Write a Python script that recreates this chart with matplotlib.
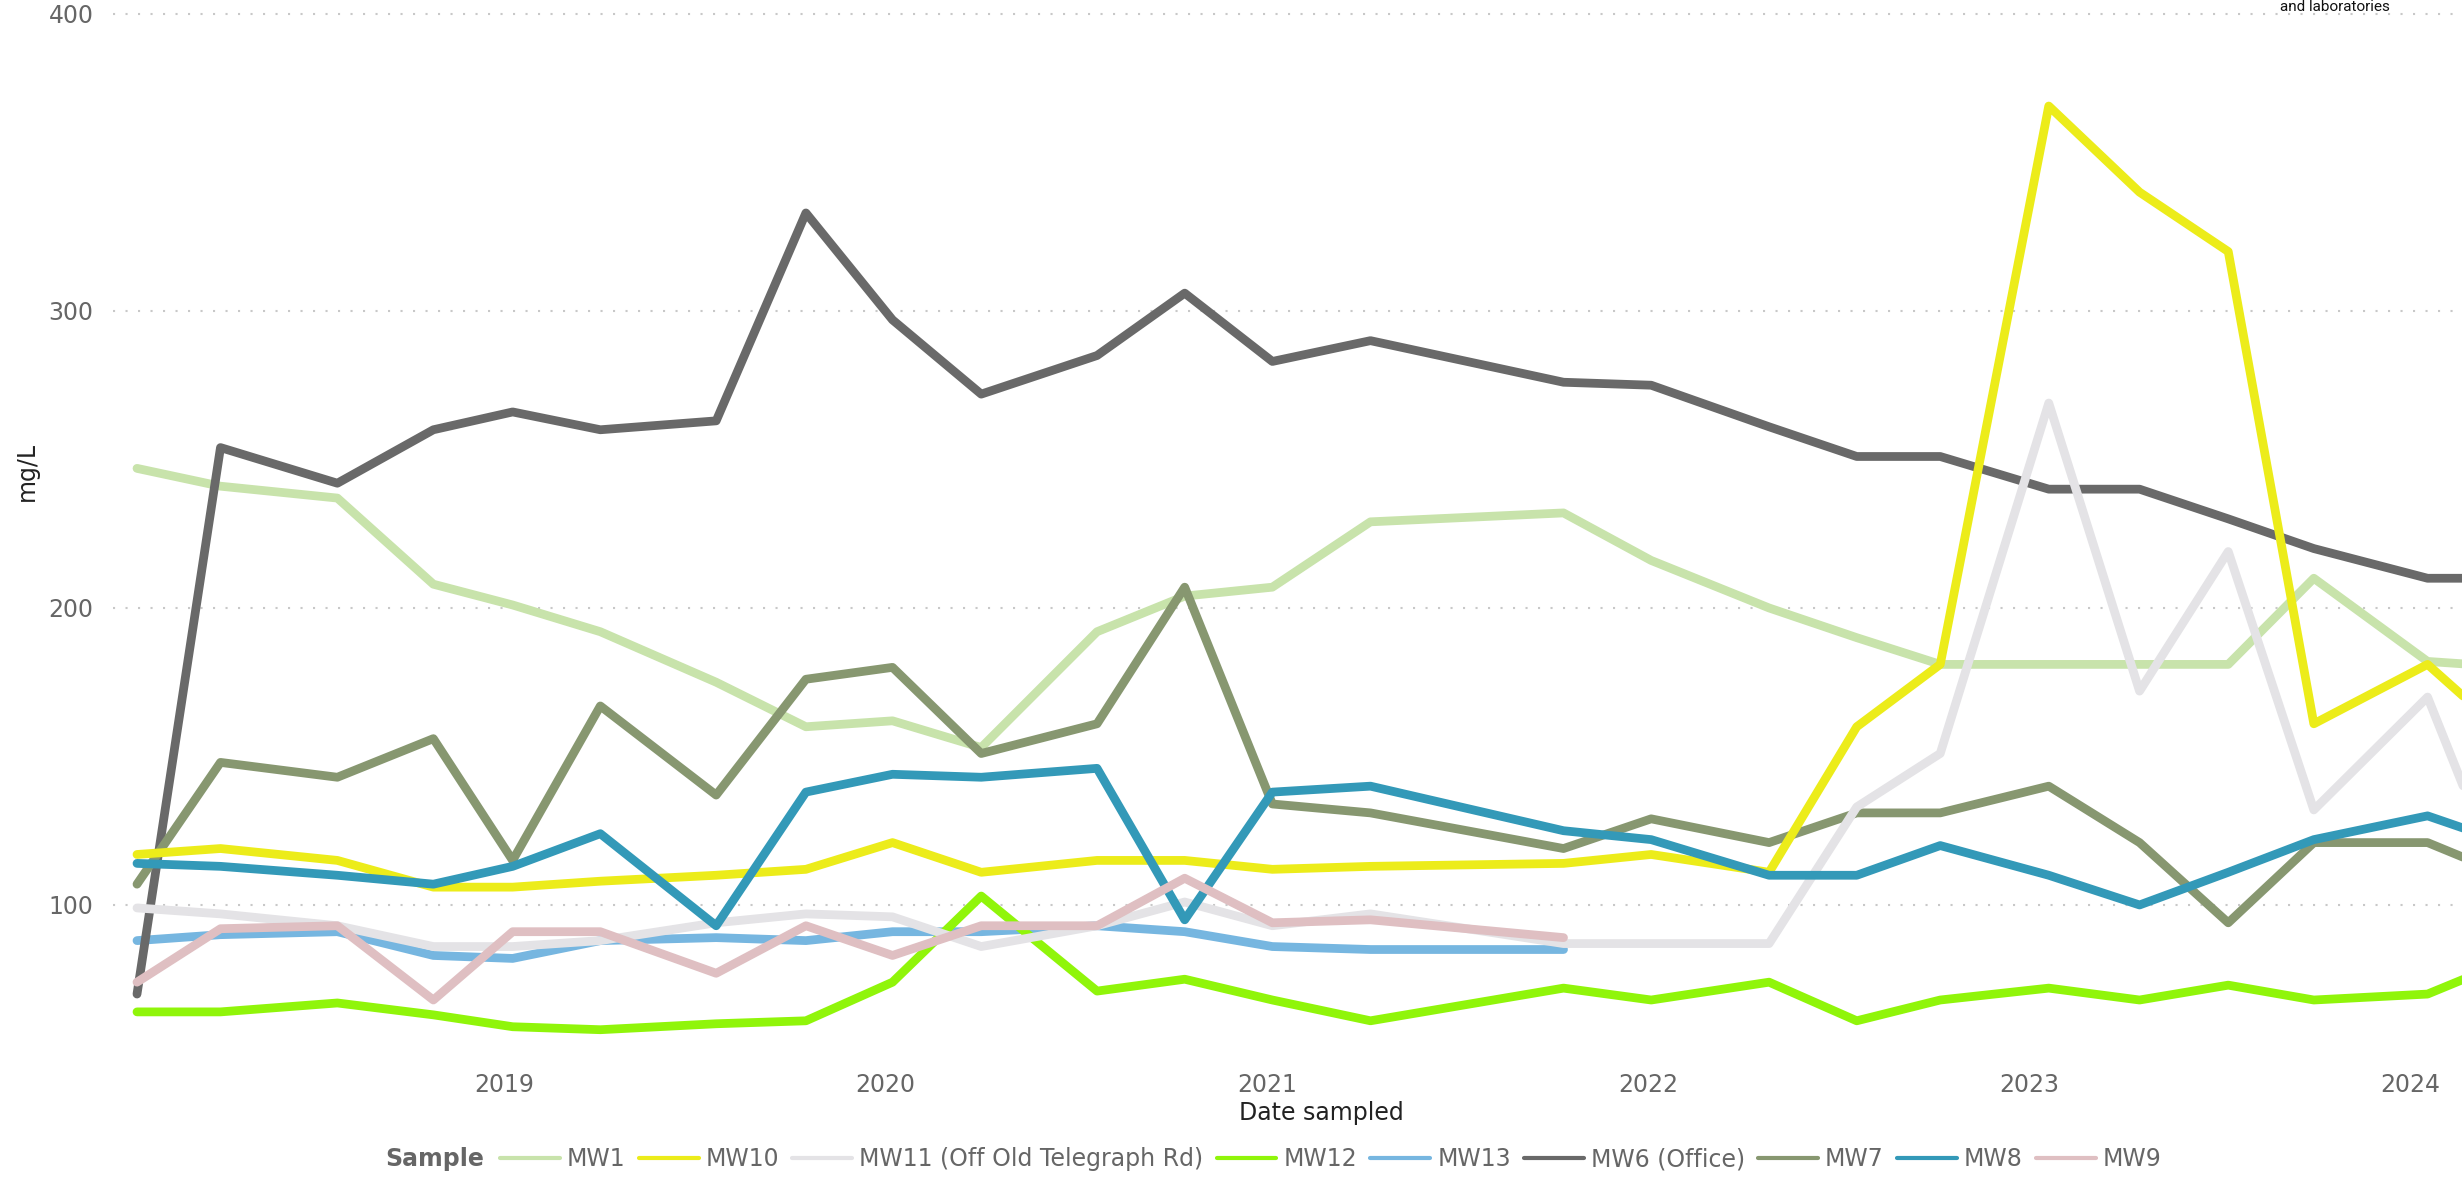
import matplotlib
matplotlib.use("Agg")
import matplotlib.pyplot as plt
import matplotlib.dates as mdates
import pandas as pd

plt.rcParams["font.family"] = ["DejaVu Sans"]

# Sampling rounds (approximate sample dates)
sample_dates = pd.to_datetime([
    "2018-01-14", "2018-04-04", "2018-07-25", "2018-10-25", "2019-01-09",
    "2019-04-03", "2019-07-23", "2019-10-17", "2020-01-08", "2020-04-02",
    "2020-07-22", "2020-10-14", "2021-01-06", "2021-04-10", "2021-10-12",
    "2022-01-04", "2022-04-27", "2022-07-20", "2022-10-08", "2023-01-20",
    "2023-04-17", "2023-07-11", "2023-10-01", "2024-01-18", "2024-04-10",
])
year_ticks = ["2019", "2020", "2021", "2022", "2023", "2024"]

# Concentrations in mg/L for each monitoring well
mw1 = [247, 241, 237, 208, 201, 192, 175, 160, 162, 153, 192, 204, 207, 229, 232,
       216, 200, 190, 181, 181, 181, 181, 210, 182, 180]
mw10 = [117, 119, 115, 106, 106, 108, 110, 112, 121, 111, 115, 115, 112, 113, 114,
        117, 111, 160, 181, 369, 340, 320, 161, 181, 155]
mw11 = [99, 97, 93, 86, 86, 88, 94, 97, 96, 86, 93, 101, 93, 97, 87,
        87, 87, 133, 151, 269, 172, 219, 132, 170, 97]
mw12 = [64, 64, 67, 63, 59, 58, 60, 61, 74, 103, 71, 75, 68, 61, 72,
        68, 74, 61, 68, 72, 68, 73, 68, 70, 82]
mw13 = [88, 90, 91, 83, 82, 88, 89, 88, 91, 91, 93, 91, 86, 85, 85]
mw6 = [70, 254, 242, 260, 266, 260, 263, 333, 297, 272, 285, 306, 283, 290, 276,
       275, 261, 251, 251, 240, 240, 230, 220, 210, 210]
mw7 = [107, 148, 143, 156, 115, 167, 137, 176, 180, 151, 161, 207, 134, 131, 119,
       129, 121, 131, 131, 140, 121, 94, 121, 121, 109]
mw8 = [114, 113, 110, 107, 113, 124, 93, 138, 144, 143, 146, 95, 138, 140, 125,
       122, 110, 110, 120, 110, 100, 111, 122, 130, 120]
mw9 = [74, 92, 93, 68, 91, 91, 77, 93, 83, 93, 93, 109, 94, 95, 89]

series_names = ["MW1", "MW10", "MW11 (Off Old Telegraph Rd)", "MW12", "MW13",
                "MW6 (Office)", "MW7", "MW8", "MW9"]
series_values = [mw1, mw10, mw11, mw12, mw13, mw6, mw7, mw8, mw9]
series_colors = ["#c8e3ab", "#ecec1a", "#e4e3e6", "#90f50a", "#76b6e0",
                 "#696969", "#879770", "#3399b8", "#dfbfc2"]
draw_order = [0, 4, 3, 5, 6, 2, 1, 7, 8]

W, H = 2462, 1177
fig = plt.figure(figsize=(W / 100, H / 100), dpi=100)
ax = fig.add_axes([113 / W, 1 - 1060 / H, 1 - 113 / W, 1060 / H])

lines = {}
for z, i in enumerate(draw_order):
    vals = series_values[i]
    (ln,) = ax.plot(sample_dates[:len(vals)], vals, color=series_colors[i],
                    lw=6.3, solid_capstyle="round", solid_joinstyle="round",
                    label=series_names[i], zorder=3 + z)
    lines[i] = ln

ax.set_ylim(47.8, 404.7)
ax.set_xlim(pd.Timestamp("2017-12-22"), pd.Timestamp("2024-02-20"))
ax.set_yticks([100, 200, 300, 400])
ax.set_xticks(pd.to_datetime([y + "-01-01" for y in year_ticks]))
ax.xaxis.set_major_formatter(mdates.DateFormatter("%Y"))

ax.grid(axis="y", linestyle=(0, (1, 5)), color="#c8c8c8", linewidth=1.5)
ax.grid(axis="x", visible=False)
ax.set_axisbelow(True)
for s in ax.spines.values():
    s.set_visible(False)
ax.tick_params(axis="both", length=0, labelsize=17, labelcolor="#666666")
ax.tick_params(axis="y", pad=14)
ax.tick_params(axis="x", pad=9)

fig.text(27 / W, 1 - 471 / H, "mg/L", rotation=90, ha="center", va="center",
         fontsize=17, color="#222222")
fig.text(1321 / W, 1 - 1113 / H, "Date sampled", ha="center", va="center",
         fontsize=17, color="#222222")

# Legend row
fig.text(385 / W, 1 - 1159 / H, "Sample", ha="left", va="center",
         fontsize=17, fontweight="bold", color="#666666")
handles = [lines[i] for i in range(len(series_names))]
leg = fig.legend(handles, series_names, loc="center left",
                 bbox_to_anchor=(500 / W, 1 - 1159 / H), ncol=9, frameon=False,
                 fontsize=17, handlelength=2.54, handletextpad=0.3,
                 columnspacing=0.55, borderpad=0, borderaxespad=0)
for t in leg.get_texts():
    t.set_color("#666666")
for h in leg.legend_handles:
    h.set_linewidth(3)

fig.text(2280 / W, 1 - 11 / H, "and laboratories", ha="left", va="baseline",
         fontsize=11, color="#111111", family=["Roboto", "DejaVu Sans"])

fig.savefig("out.png", dpi=100)
